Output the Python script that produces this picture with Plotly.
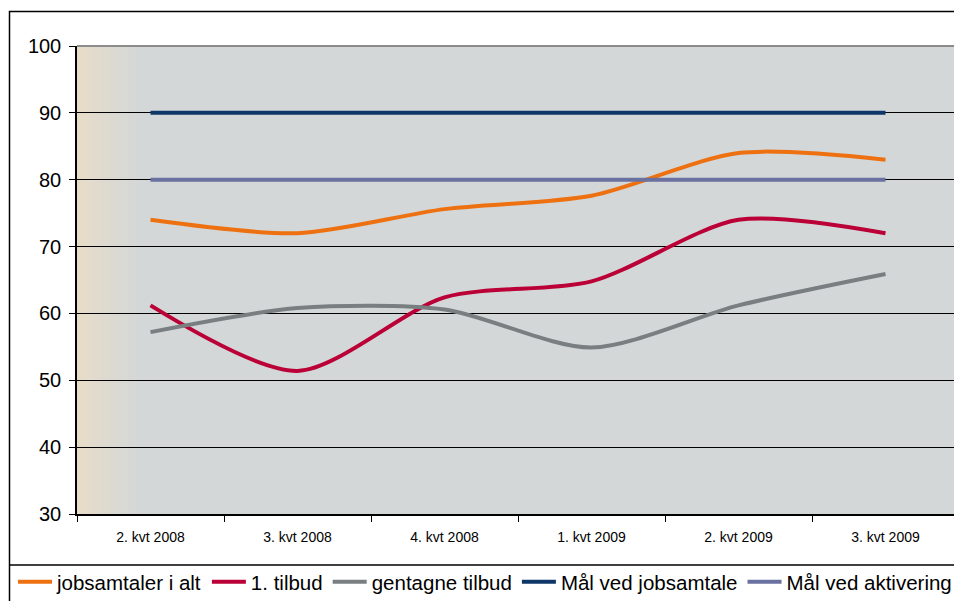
import plotly.graph_objects as go

# quarters on the x axis
kvartaler = ['2. kvt 2008', '3. kvt 2008', '4. kvt 2008', '1. kvt 2009', '2. kvt 2009', '3. kvt 2009']

# series values
jobsamtaler_i_alt = [74.0, 72.0, 75.6, 77.6, 84.0, 83.0]
foerste_tilbud = [61.2, 51.4, 62.4, 64.8, 74.0, 72.0]
gentagne_tilbud = [57.2, 60.8, 60.6, 54.9, 61.2, 65.9]
maal_jobsamtale = [90, 90, 90, 90, 90, 90]
maal_aktivering = [80, 80, 80, 80, 80, 80]

W, H = 962, 601
OFF = 8  # the page body margin pushes the figure 8px right/down


def px_x(p):
    return (p - OFF) / W


def px_y(p):
    return 1 - (p - OFF) / H


fig = go.Figure()

series = [
    ('jobsamtaler i alt', jobsamtaler_i_alt, '#EE7111', 'spline'),
    ('1. tilbud', foerste_tilbud, '#BA0036', 'spline'),
    ('gentagne tilbud', gentagne_tilbud, '#797E80', 'spline'),
    ('Mål ved jobsamtale', maal_jobsamtale, '#0E3667', 'linear'),
    ('Mål ved aktivering', maal_aktivering, '#6A70A0', 'linear'),
]
for name, vals, color, shape in series:
    fig.add_trace(go.Scatter(
        x=kvartaler, y=vals, name=name, mode='lines',
        line=dict(color=color, width=4, shape=shape, smoothing=0.8),
    ))

# plot background: gray with a beige fade at the left edge
shapes = []
c0 = (0xEA, 0xDD, 0xC7)
c1 = (0xD3, 0xD7, 0xD8)
n = 30
fade = 0.075
for i in range(n):
    t = ((i + 0.5) / n) ** 0.8
    col = tuple(round(a + (b - a) * t) for a, b in zip(c0, c1))
    shapes.append(dict(
        type='rect', xref='x domain', yref='y domain', layer='below',
        x0=fade * i / n, x1=fade * (i + 1) / n + 0.002, y0=0, y1=1,
        fillcolor='rgb(%d,%d,%d)' % col, line=dict(width=0),
    ))

# gray frame on top and right of the plot area
shapes.append(dict(type='line', xref='x domain', yref='y domain', x0=0, x1=1, y0=1, y1=1,
                   line=dict(color='#8C8C8C', width=2)))
shapes.append(dict(type='line', xref='x domain', yref='y domain', x0=1, x1=1, y0=0, y1=1,
                   line=dict(color='#8C8C8C', width=2)))

# outer chart border and legend box
shapes.append(dict(type='rect', xref='paper', yref='paper',
                   x0=px_x(9.5), x1=1.05, y0=-0.05, y1=px_y(11.5),
                   line=dict(color='#000000', width=1.5)))
shapes.append(dict(type='line', xref='paper', yref='paper',
                   x0=px_x(9.5), x1=1.05, y0=px_y(565), y1=px_y(565),
                   line=dict(color='#000000', width=1.5)))

fig.update_layout(
    width=W, height=H,
    margin=dict(l=0, r=0, t=0, b=0),
    paper_bgcolor='white',
    plot_bgcolor='#D3D7D8',
    font=dict(family='Liberation Sans, Arial, sans-serif', color='black'),
    shapes=shapes,
    showlegend=True,
    legend=dict(
        orientation='h', x=px_x(13), y=px_y(582), xanchor='left', yanchor='middle',
        font=dict(size=20.5), bgcolor='rgba(0,0,0,0)', traceorder='normal',
        itemwidth=34,
    ),
    xaxis=dict(
        domain=[px_x(77), px_x(959)],
        type='category', range=[-0.5, 5.5],
        tickson='boundaries', ticks='outside', ticklen=6, tickcolor='black', tickwidth=1,
        showline=True, linecolor='black', linewidth=1.5,
        showgrid=False, zeroline=False, automargin=False,
        tickfont=dict(size=14), ticklabelstandoff=9,
    ),
    yaxis=dict(
        domain=[px_y(514), px_y(46)],
        range=[30, 100], dtick=10,
        ticks='outside', ticklen=6, tickcolor='black', tickwidth=1,
        showline=True, linecolor='black', linewidth=1.5,
        showgrid=True, gridcolor='black', gridwidth=1,
        zeroline=False, automargin=False,
        tickfont=dict(size=20), ticklabelstandoff=4,
    ),
)

fig.write_html('out.html')
